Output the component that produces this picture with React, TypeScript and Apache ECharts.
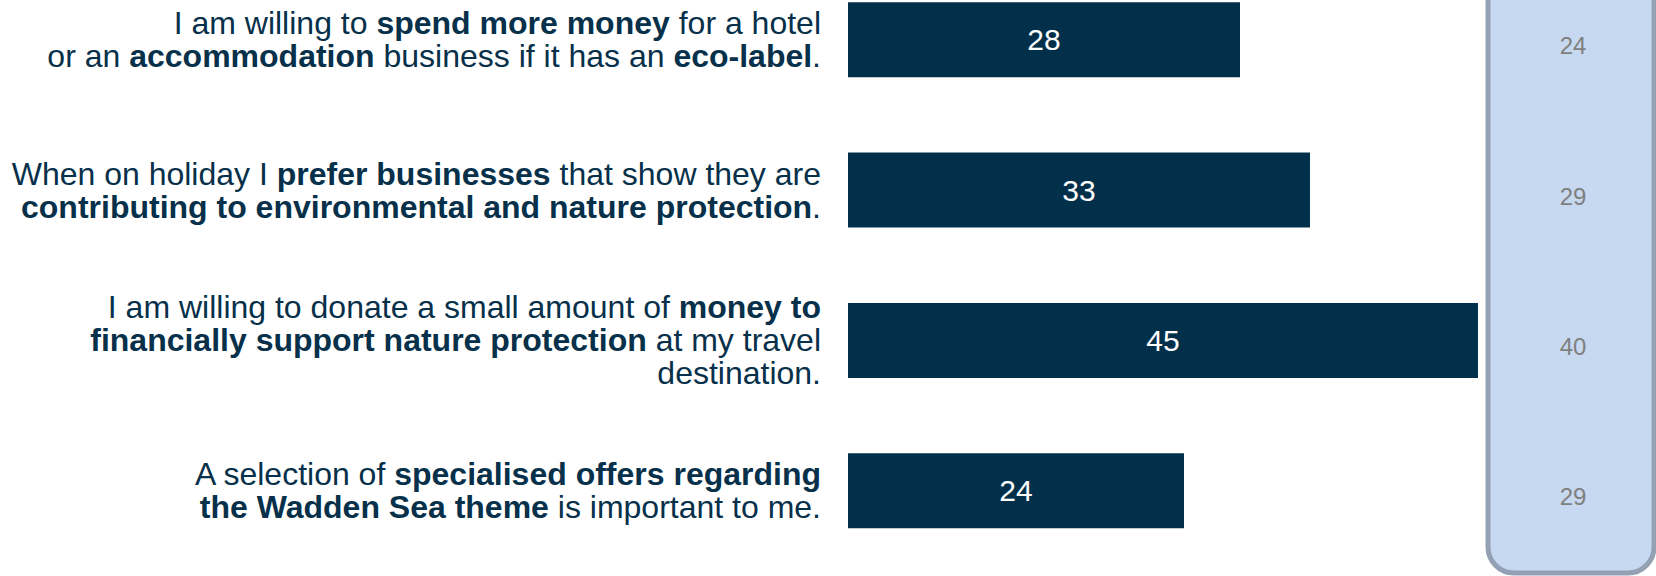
import React, { useEffect, useRef } from "react";
import * as echarts from "echarts";

// Statements (bold parts marked with {b|...})
const statements: string[] = [
  "I am willing to {b|spend more money} for a hotel\nor an {b|accommodation} business if it has an {b|eco-label}.",
  "When on holiday I {b|prefer businesses} that show they are\n{b|contributing to environmental and nature protection}.",
  "I am willing to donate a small amount of {b|money to}\n{b|financially support nature protection} at my travel\ndestination.",
  "A selection of {b|specialised offers regarding}\n{b|the Wadden Sea theme} is important to me.",
];

// Main values (bars)
const barValues: number[] = [28, 33, 45, 24];

// Comparison values (right-hand panel)
const panelValues: number[] = [24, 29, 40, 29];

const FONT = "'Liberation Sans', Arial, Helvetica, sans-serif";
const TEXT_COLOR = "#07304a";
const BAR_COLOR = "#02304a";

export default function App() {
  const ref = useRef<HTMLDivElement>(null);

  useEffect(() => {
    if (!ref.current) return;
    const chart = echarts.init(ref.current, undefined, { renderer: "svg" });
    const option: any = {
      animation: false,
      backgroundColor: "#ffffff",
      grid: {
        left: 848,
        top: -35.4,
        width: 700,
        height: 601.3,
        containLabel: false,
        outerBoundsMode: "none",
      },
      graphic: [
        {
          type: "rect",
          z: -10,
          shape: { x: 1488, y: -40, width: 166, height: 613, r: 26 },
          style: { fill: "#c6d9f0", stroke: "#94a1b5", lineWidth: 5 },
        },
      ],
      xAxis: {
        type: "value",
        min: 0,
        max: 50,
        show: false,
        splitLine: { show: false },
      },
      yAxis: [
        {
          type: "category",
          data: statements,
          inverse: true,
          axisLine: { show: false },
          axisTick: { show: false },
          splitLine: { show: false },
          axisLabel: {
            interval: 0,
            margin: 27,
            align: "right",
            fontFamily: FONT,
            fontSize: 32,
            lineHeight: 33,
            color: TEXT_COLOR,
            rich: {
              b: {
                fontFamily: FONT,
                fontSize: 32,
                lineHeight: 33,
                fontWeight: "bold",
                color: TEXT_COLOR,
                align: "right",
              },
            },
          },
        },
        {
          type: "category",
          position: "right",
          data: panelValues.map((v) => String(v)),
          inverse: true,
          z: 10,
          axisLine: { show: false },
          axisTick: { show: false },
          splitLine: { show: false },
          axisLabel: {
            interval: 0,
            margin: 25,
            align: "center",
            verticalAlign: "top",
            lineHeight: 12,
            fontFamily: FONT,
            fontSize: 24,
            color: "#7f7f7f",
          },
        },
      ],
      series: [
        {
          type: "bar",
          yAxisIndex: 0,
          data: barValues,
          barWidth: 75,
          itemStyle: { color: BAR_COLOR },
          label: {
            show: true,
            position: "inside",
            color: "#ffffff",
            fontFamily: FONT,
            fontSize: 30,
          },
        },
      ],
    };
    chart.setOption(option);
    return () => chart.dispose();
  }, []);

  return (
    <div
      ref={ref}
      style={{ position: "absolute", left: 0, top: 0, width: 1656, height: 576 }}
    />
  );
}
